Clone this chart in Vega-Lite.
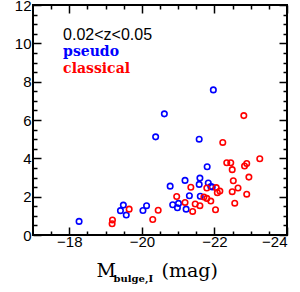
{
  "$schema": "https://vega.github.io/schema/vega-lite/v6.json",
  "width": 254,
  "height": 230,
  "autosize": {"type": "none"},
  "padding": {"left": 33, "top": 5, "right": 13, "bottom": 57},
  "background": "white",
  "datasets": {
    "pts": [
      {"m": -18.27, "r": 0.71, "type": "pseudo"},
      {"m": -19.49, "r": 1.56, "type": "pseudo"},
      {"m": -19.41, "r": 1.27, "type": "pseudo"},
      {"m": -19.57, "r": 1.04, "type": "pseudo"},
      {"m": -20.03, "r": 1.28, "type": "pseudo"},
      {"m": -20.13, "r": 1.53, "type": "pseudo"},
      {"m": -20.85, "r": 1.58, "type": "pseudo"},
      {"m": -21.01, "r": 1.65, "type": "pseudo"},
      {"m": -20.98, "r": 1.42, "type": "pseudo"},
      {"m": -21.22, "r": 1.35, "type": "pseudo"},
      {"m": -20.78, "r": 2.55, "type": "pseudo"},
      {"m": -21.19, "r": 2.85, "type": "pseudo"},
      {"m": -21.31, "r": 2.05, "type": "pseudo"},
      {"m": -21.61, "r": 2.02, "type": "pseudo"},
      {"m": -21.60, "r": 2.97, "type": "pseudo"},
      {"m": -21.58, "r": 2.64, "type": "pseudo"},
      {"m": -21.83, "r": 2.71, "type": "pseudo"},
      {"m": -21.90, "r": 2.53, "type": "pseudo"},
      {"m": -21.94, "r": 2.50, "type": "pseudo"},
      {"m": -21.80, "r": 3.56, "type": "pseudo"},
      {"m": -21.58, "r": 5.00, "type": "pseudo"},
      {"m": -20.38, "r": 5.12, "type": "pseudo"},
      {"m": -20.62, "r": 6.32, "type": "pseudo"},
      {"m": -21.97, "r": 7.57, "type": "pseudo"},
      {"m": -19.19, "r": 0.78, "type": "classical"},
      {"m": -19.18, "r": 0.59, "type": "classical"},
      {"m": -19.65, "r": 1.35, "type": "classical"},
      {"m": -20.30, "r": 0.81, "type": "classical"},
      {"m": -20.45, "r": 1.29, "type": "classical"},
      {"m": -20.96, "r": 2.01, "type": "classical"},
      {"m": -21.35, "r": 2.49, "type": "classical"},
      {"m": -21.19, "r": 1.70, "type": "classical"},
      {"m": -21.40, "r": 1.23, "type": "classical"},
      {"m": -21.47, "r": 1.62, "type": "classical"},
      {"m": -21.60, "r": 1.53, "type": "classical"},
      {"m": -21.71, "r": 1.98, "type": "classical"},
      {"m": -21.79, "r": 1.91, "type": "classical"},
      {"m": -21.90, "r": 1.77, "type": "classical"},
      {"m": -21.79, "r": 2.45, "type": "classical"},
      {"m": -22.05, "r": 2.47, "type": "classical"},
      {"m": -22.08, "r": 2.21, "type": "classical"},
      {"m": -22.15, "r": 2.29, "type": "classical"},
      {"m": -22.03, "r": 1.32, "type": "classical"},
      {"m": -22.23, "r": 4.83, "type": "classical"},
      {"m": -22.34, "r": 3.77, "type": "classical"},
      {"m": -22.45, "r": 3.77, "type": "classical"},
      {"m": -22.49, "r": 3.41, "type": "classical"},
      {"m": -22.52, "r": 2.83, "type": "classical"},
      {"m": -22.49, "r": 2.26, "type": "classical"},
      {"m": -22.65, "r": 2.45, "type": "classical"},
      {"m": -22.56, "r": 1.66, "type": "classical"},
      {"m": -22.89, "r": 2.13, "type": "classical"},
      {"m": -22.95, "r": 3.02, "type": "classical"},
      {"m": -22.83, "r": 3.60, "type": "classical"},
      {"m": -22.89, "r": 3.73, "type": "classical"},
      {"m": -23.25, "r": 3.98, "type": "classical"},
      {"m": -22.81, "r": 6.23, "type": "classical"}
    ]
  },
  "data": {"name": "pts"},
  "resolve": {"axis": {"x": "independent", "y": "independent"}},
  "layer": [
    {
      "mark": {"type": "point", "filled": false, "strokeWidth": 1.6, "size": 30, "opacity": 1},
      "encoding": {
        "x": {
          "field": "m", "type": "quantitative",
          "scale": {"domain": [-24, -17], "reverse": true, "nice": false, "zero": false},
          "axis": {
            "orient": "bottom", "values": [-18, -20, -22, -24], "tickSize": -8,
            "labelPadding": 7, "title": "M", "titleX": 63, "titleY": 41,
            "titleAlign": "left", "titleBaseline": "alphabetic",
            "titleFont": "DejaVu Serif", "titleFontSize": 19, "titleFontWeight": "normal"
          }
        },
        "y": {
          "field": "r", "type": "quantitative",
          "scale": {"domain": [0, 12], "nice": false, "zero": false},
          "axis": {"orient": "left", "values": [0, 2, 4, 6, 8, 10, 12], "tickSize": -8, "labelPadding": 10, "title": null}
        },
        "color": {
          "field": "type", "type": "nominal",
          "scale": {"domain": ["pseudo", "classical"], "range": ["#0000ff", "#ff0000"]},
          "legend": null
        }
      }
    },
    {
      "mark": {"type": "point", "opacity": 0},
      "encoding": {
        "x": {
          "field": "m", "type": "quantitative",
          "axis": {
            "orient": "bottom", "values": [-17.5, -18.5, -19, -19.5, -20.5, -21, -21.5, -22.5, -23, -23.5],
            "tickSize": -4, "labels": false, "title": "bulge,I", "titleX": 80, "titleY": 46,
            "titleAlign": "left", "titleBaseline": "alphabetic",
            "titleFont": "DejaVu Serif", "titleFontSize": 10, "titleFontWeight": "bold"
          }
        },
        "y": {
          "field": "r", "type": "quantitative",
          "axis": {
            "orient": "left", "values": [0.5, 1, 1.5, 2.5, 3, 3.5, 4.5, 5, 5.5, 6.5, 7, 7.5, 8.5, 9, 9.5, 10.5, 11, 11.5],
            "tickSize": -4, "labels": false, "title": null
          }
        }
      }
    },
    {
      "mark": {"type": "point", "opacity": 0},
      "encoding": {
        "x": {
          "field": "m", "type": "quantitative",
          "axis": {"orient": "top", "values": [-18, -20, -22, -24], "tickSize": -8, "labels": false, "title": null}
        },
        "y": {
          "field": "r", "type": "quantitative",
          "axis": {"orient": "right", "values": [0, 2, 4, 6, 8, 10, 12], "tickSize": -8, "labels": false, "title": null}
        }
      }
    },
    {
      "mark": {"type": "point", "opacity": 0},
      "encoding": {
        "x": {
          "field": "m", "type": "quantitative",
          "axis": {
            "orient": "top", "values": [-17.5, -18.5, -19, -19.5, -20.5, -21, -21.5, -22.5, -23, -23.5],
            "tickSize": -4, "labels": false, "title": null
          }
        },
        "y": {
          "field": "r", "type": "quantitative",
          "axis": {
            "orient": "right", "values": [0.5, 1, 1.5, 2.5, 3, 3.5, 4.5, 5, 5.5, 6.5, 7, 7.5, 8.5, 9, 9.5, 10.5, 11, 11.5],
            "tickSize": -4, "labels": false, "title": null
          }
        }
      }
    },
    {
      "mark": {"type": "point", "opacity": 0},
      "encoding": {
        "x": {
          "field": "m", "type": "quantitative",
          "axis": {
            "orient": "bottom", "ticks": false, "labels": false, "domain": false,
            "title": "(mag)", "titleX": 128, "titleY": 41,
            "titleAlign": "left", "titleBaseline": "alphabetic",
            "titleFont": "DejaVu Serif", "titleFontSize": 19, "titleFontWeight": "normal"
          }
        },
        "y": {"field": "r", "type": "quantitative", "axis": null}
      }
    },
    {
      "data": {"values": [{}]},
      "mark": {"type": "text", "text": "0.02<z<0.05", "align": "left", "baseline": "alphabetic", "font": "Liberation Sans", "fontSize": 16, "color": "black"},
      "encoding": {
        "x": {"datum": -17.83, "type": "quantitative", "axis": null},
        "y": {"datum": 10.18, "type": "quantitative", "axis": null}
      }
    },
    {
      "data": {"values": [{}]},
      "mark": {"type": "text", "text": "pseudo", "align": "left", "baseline": "alphabetic", "font": "DejaVu Serif", "fontSize": 14, "fontWeight": "bold", "color": "#0000ff"},
      "encoding": {
        "x": {"datum": -17.83, "type": "quantitative", "axis": null},
        "y": {"datum": 9.32, "type": "quantitative", "axis": null}
      }
    },
    {
      "data": {"values": [{}]},
      "mark": {"type": "text", "text": "classical", "align": "left", "baseline": "alphabetic", "font": "DejaVu Serif", "fontSize": 14, "fontWeight": "bold", "color": "#ff0000"},
      "encoding": {
        "x": {"datum": -17.83, "type": "quantitative", "axis": null},
        "y": {"datum": 8.46, "type": "quantitative", "axis": null}
      }
    }
  ],
  "config": {
    "view": {"stroke": "black", "strokeWidth": 2},
    "axis": {
      "grid": false, "domain": false,
      "tickColor": "black", "tickWidth": 1.5,
      "labelColor": "black", "labelFont": "Liberation Sans", "labelFontSize": 15,
      "titleColor": "black"
    }
  }
}
